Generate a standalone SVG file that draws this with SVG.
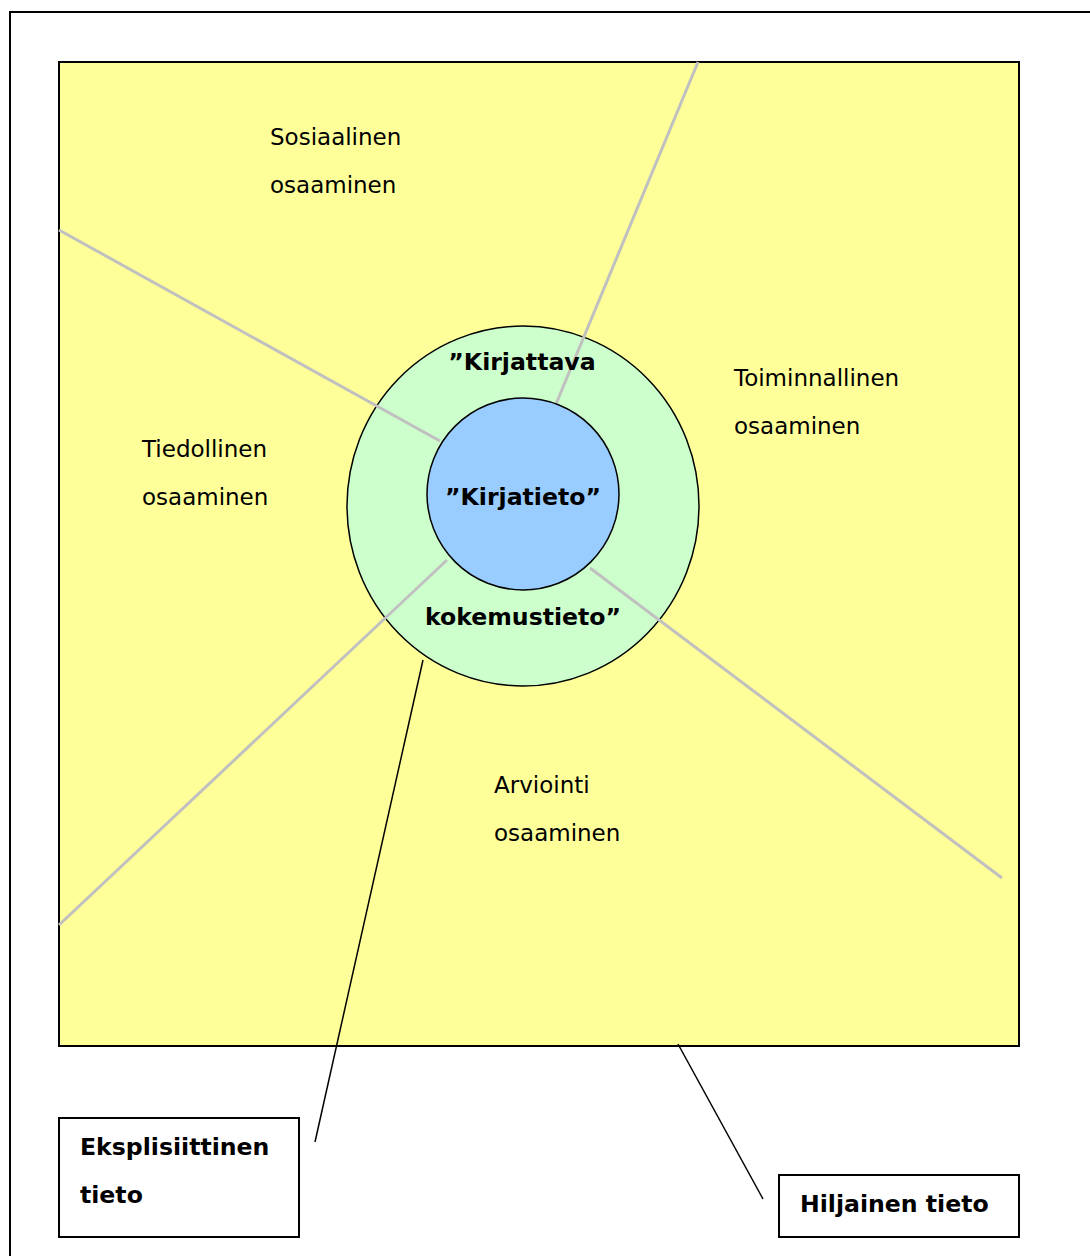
<svg xmlns="http://www.w3.org/2000/svg" width="1090" height="1256" viewBox="0 0 1090 1256">
<style>
.t{font-family:"DejaVu Sans",Verdana,sans-serif;font-size:23px;fill:#000}
.b{font-family:"DejaVu Sans",Verdana,sans-serif;font-size:23.6px;font-weight:bold;fill:#000}
.g{stroke:#c0c0c0;stroke-width:3;fill:none}
.k{stroke:#000;stroke-width:1.5;fill:none}
</style>
<rect width="1090" height="1256" fill="#fff"/>
<path d="M10 1256 V12 H1090" fill="none" stroke="#000" stroke-width="2"/>
<g id="area">
<rect x="59" y="62" width="960" height="984" fill="#ffff99" stroke="#000" stroke-width="2"/>
</g>
<g id="outer-circle">
<ellipse cx="523" cy="506" rx="176" ry="180" fill="#ccffcc" stroke="#000" stroke-width="1.5"/>
</g>
<g id="connectors">
<line class="g" x1="698" y1="62" x2="556" y2="404"/>
<line class="g" x1="59" y1="230" x2="440" y2="441"/>
<line class="g" x1="59" y1="925" x2="447" y2="560"/>
<line class="g" x1="590" y1="568" x2="1002" y2="878"/>
<line class="k" x1="423" y1="660" x2="315" y2="1142"/>
<line class="k" x1="678" y1="1044" x2="763" y2="1199"/>
</g>
<g id="inner-circle">
<circle cx="523" cy="494" r="96" fill="#99ccff" stroke="#000" stroke-width="1.5"/>
<text class="b" x="523" y="505" text-anchor="middle">”Kirjatieto”</text>
</g>
<g id="outer-labels">
<text class="b" x="522" y="370" text-anchor="middle">”Kirjattava</text>
<text class="b" x="523" y="625" text-anchor="middle">kokemustieto”</text>
</g>
<g id="sosiaalinen"><text class="t" x="270" y="145">Sosiaalinen</text><text class="t" x="270" y="193">osaaminen</text></g>
<g id="toiminnallinen"><text class="t" x="734" y="386">Toiminnallinen</text><text class="t" x="734" y="434">osaaminen</text></g>
<g id="tiedollinen"><text class="t" x="142" y="457">Tiedollinen</text><text class="t" x="142" y="505">osaaminen</text></g>
<g id="arviointi"><text class="t" x="494" y="793">Arviointi</text><text class="t" x="494" y="841">osaaminen</text></g>
<g id="eksplisiittinen">
<rect x="59" y="1118" width="240" height="119" fill="#fff" stroke="#000" stroke-width="2"/>
<text class="b" x="80" y="1155">Eksplisiittinen</text>
<text class="b" x="80" y="1203">tieto</text>
</g>
<g id="hiljainen">
<rect x="779" y="1175" width="240" height="62" fill="#fff" stroke="#000" stroke-width="2"/>
<text class="b" x="800" y="1212">Hiljainen tieto</text>
</g>
</svg>
